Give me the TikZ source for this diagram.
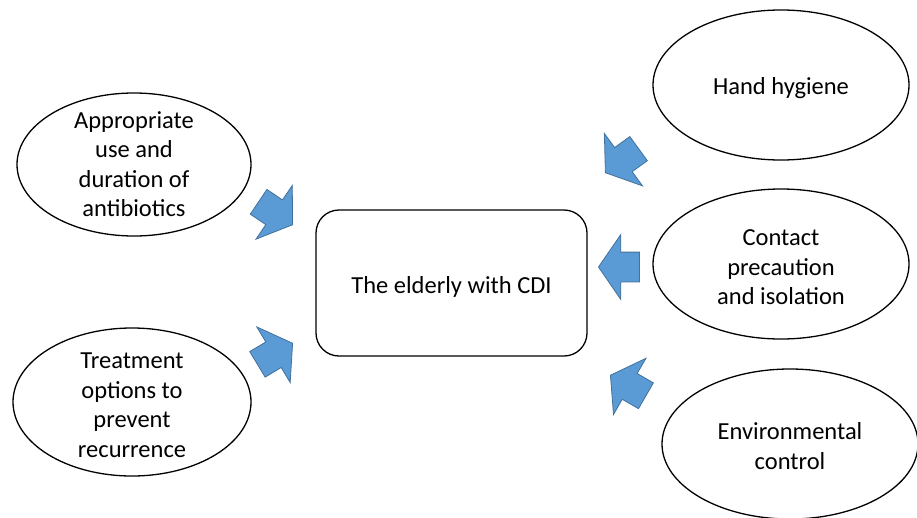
\documentclass[tikz,border=0pt]{standalone}
\usepackage{fontspec}
\setmainfont{Carlito}
\usetikzlibrary{shapes.geometric,shapes.arrows}
\definecolor{arrowfill}{HTML}{5B9BD5}
\definecolor{arrowline}{HTML}{41719C}
\begin{document}
\begin{tikzpicture}[x=1pt,y=-1pt,
  every node/.style={font=\fontsize{24.5}{29.5}\selectfont},
  bubble/.style={ellipse,draw=black,line width=1.3pt,inner sep=0pt},
  txt/.style={align=center,inner sep=0pt},
  centerbox/.style={rectangle,rounded corners=23pt,draw=black,line width=1.3pt,minimum width=271pt,minimum height=146pt},
  blockarrow/.style={single arrow,fill=arrowfill,draw=arrowline,line width=0.8pt,
    inner xsep=0pt,inner ysep=14.5pt,single arrow head extend=17.5pt,
    single arrow tip angle=111,minimum height=41pt,minimum width=0pt,anchor=tip}]
\useasboundingbox (0,0) rectangle (917,517);
\node[centerbox] (c) at (451.5,283) {};
\node[txt,yshift=-3.5pt] (tc) at (c.center) {The elderly with CDI};
\node[bubble,minimum width=234pt,minimum height=143pt] (e1) at (134,164.5) {};
\node[txt,yshift=0.5pt] (t1) at (e1.center) {Appropriate\\use and\\duration of\\antibiotics};
\node[bubble,minimum width=238pt,minimum height=148pt] (e2) at (132,402) {};
\node[txt,yshift=-3pt] (t2) at (e2.center) {Treatment\\options to\\prevent\\recurrence};
\node[bubble,minimum width=256pt,minimum height=150pt] (e3) at (781,85) {};
\node[txt,yshift=-3.5pt] (t3) at (e3.center) {Hand hygiene};
\node[bubble,minimum width=256pt,minimum height=150pt] (e4) at (781,264) {};
\node[txt,yshift=-3.5pt] (t4) at (e4.center) {Contact\\precaution\\and isolation};
\node[bubble,minimum width=256pt,minimum height=150pt] (e5) at (790,444) {};
\node[txt,yshift=-2pt] (t5) at (e5.center) {Environmental\\control};
\node[blockarrow,rotate=-34] (a1) at (293,225) {};
\node[blockarrow,rotate=31] (a2) at (293,343) {};
\node[blockarrow,rotate=-144] (a3) at (605,173) {};
\node[blockarrow,rotate=180] (a4) at (598,267) {};
\node[blockarrow,rotate=150] (a5) at (610,375) {};
\end{tikzpicture}
\end{document}
